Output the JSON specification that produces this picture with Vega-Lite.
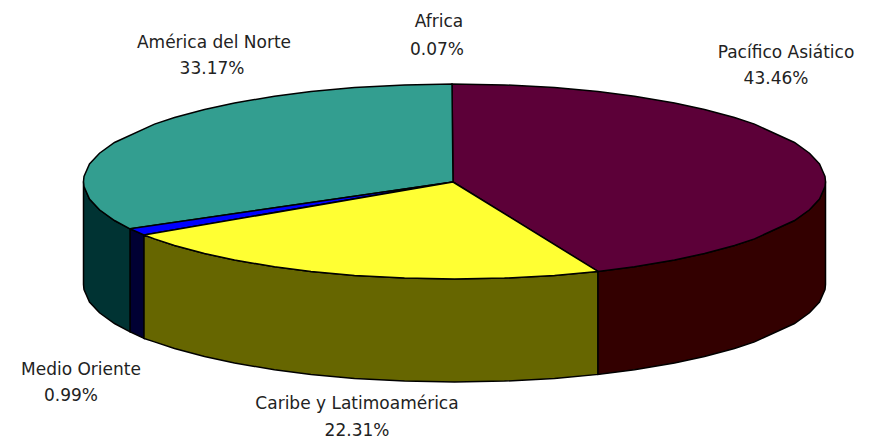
{"$schema":"https://vega.github.io/schema/vega-lite/v6.json","width":870,"height":442,"padding":0,"autosize":"none","background":"white","config":{"view":{"stroke":null}},
"datasets":{"shapes":[
{"part":"Medio Oriente lado","o":1,"x":130,"y":228.8},{"part":"Medio Oriente lado","o":2,"x":144,"y":235},{"part":"Medio Oriente lado","o":3,"x":144,"y":338.4},{"part":"Medio Oriente lado","o":4,"x":130,"y":331.8},{"part":"Medio Oriente lado","o":5,"x":130,"y":228.8},
{"part":"América lado","o":1,"x":83.5,"y":181.5},{"part":"América lado","o":2,"x":84,"y":186.5},{"part":"América lado","o":3,"x":89.5,"y":199},{"part":"América lado","o":4,"x":99.5,"y":209.8},{"part":"América lado","o":5,"x":114.5,"y":220.5},{"part":"América lado","o":6,"x":130,"y":228.8},{"part":"América lado","o":7,"x":130,"y":331.8},{"part":"América lado","o":8,"x":114.5,"y":323.5},{"part":"América lado","o":9,"x":99.5,"y":312.8},{"part":"América lado","o":10,"x":89.5,"y":302},{"part":"América lado","o":11,"x":84,"y":289.5},{"part":"América lado","o":12,"x":83.5,"y":284.5},{"part":"América lado","o":13,"x":83.5,"y":181.5},
{"part":"Caribe lado","o":1,"x":144,"y":235},{"part":"Caribe lado","o":2,"x":154.5,"y":238.9},{"part":"Caribe lado","o":3,"x":174.5,"y":245.5},{"part":"Caribe lado","o":4,"x":204.5,"y":253.5},{"part":"Caribe lado","o":5,"x":234.5,"y":260},{"part":"Caribe lado","o":6,"x":274.5,"y":266.8},{"part":"Caribe lado","o":7,"x":311,"y":271.4},{"part":"Caribe lado","o":8,"x":354.5,"y":275.4},{"part":"Caribe lado","o":9,"x":404.5,"y":278.1},{"part":"Caribe lado","o":10,"x":454.5,"y":279},{"part":"Caribe lado","o":11,"x":504.5,"y":278.1},{"part":"Caribe lado","o":12,"x":554.5,"y":275.4},{"part":"Caribe lado","o":13,"x":598,"y":271.4},{"part":"Caribe lado","o":14,"x":598,"y":374.4},{"part":"Caribe lado","o":15,"x":554.5,"y":378.4},{"part":"Caribe lado","o":16,"x":504.5,"y":381.1},{"part":"Caribe lado","o":17,"x":454.5,"y":382},{"part":"Caribe lado","o":18,"x":404.5,"y":381.1},{"part":"Caribe lado","o":19,"x":354.5,"y":378.4},{"part":"Caribe lado","o":20,"x":311,"y":374.4},{"part":"Caribe lado","o":21,"x":274.5,"y":369.8},{"part":"Caribe lado","o":22,"x":234.5,"y":363},{"part":"Caribe lado","o":23,"x":204.5,"y":356.5},{"part":"Caribe lado","o":24,"x":174.5,"y":348.5},{"part":"Caribe lado","o":25,"x":154.5,"y":341.9},{"part":"Caribe lado","o":26,"x":144,"y":338.4},{"part":"Caribe lado","o":27,"x":144,"y":235},
{"part":"Pacífico lado","o":1,"x":598,"y":271.4},{"part":"Pacífico lado","o":2,"x":634.5,"y":266.8},{"part":"Pacífico lado","o":3,"x":674.5,"y":260},{"part":"Pacífico lado","o":4,"x":704.5,"y":253.5},{"part":"Pacífico lado","o":5,"x":734.5,"y":245.5},{"part":"Pacífico lado","o":6,"x":754.5,"y":238.9},{"part":"Pacífico lado","o":7,"x":794.5,"y":220.5},{"part":"Pacífico lado","o":8,"x":809.5,"y":209.8},{"part":"Pacífico lado","o":9,"x":819.5,"y":199},{"part":"Pacífico lado","o":10,"x":825,"y":186.5},{"part":"Pacífico lado","o":11,"x":825.5,"y":181.5},{"part":"Pacífico lado","o":12,"x":825.5,"y":284.5},{"part":"Pacífico lado","o":13,"x":825,"y":289.5},{"part":"Pacífico lado","o":14,"x":819.5,"y":302},{"part":"Pacífico lado","o":15,"x":809.5,"y":312.8},{"part":"Pacífico lado","o":16,"x":794.5,"y":323.5},{"part":"Pacífico lado","o":17,"x":754.5,"y":341.9},{"part":"Pacífico lado","o":18,"x":734.5,"y":348.5},{"part":"Pacífico lado","o":19,"x":704.5,"y":356.5},{"part":"Pacífico lado","o":20,"x":674.5,"y":363},{"part":"Pacífico lado","o":21,"x":634.5,"y":369.8},{"part":"Pacífico lado","o":22,"x":598,"y":374.4},{"part":"Pacífico lado","o":23,"x":598,"y":271.4},
{"part":"Pacífico","o":1,"x":453,"y":182},{"part":"Pacífico","o":2,"x":452,"y":84},{"part":"Pacífico","o":3,"x":504.5,"y":84.9},{"part":"Pacífico","o":4,"x":554.5,"y":87.6},{"part":"Pacífico","o":5,"x":598,"y":91.6},{"part":"Pacífico","o":6,"x":634.5,"y":96.2},{"part":"Pacífico","o":7,"x":674.5,"y":103},{"part":"Pacífico","o":8,"x":704.5,"y":109.5},{"part":"Pacífico","o":9,"x":734.5,"y":117.5},{"part":"Pacífico","o":10,"x":754.5,"y":124.1},{"part":"Pacífico","o":11,"x":794.5,"y":142.5},{"part":"Pacífico","o":12,"x":809.5,"y":153.2},{"part":"Pacífico","o":13,"x":819.5,"y":164},{"part":"Pacífico","o":14,"x":825,"y":176.5},{"part":"Pacífico","o":15,"x":825.5,"y":181.5},{"part":"Pacífico","o":16,"x":825,"y":186.5},{"part":"Pacífico","o":17,"x":819.5,"y":199},{"part":"Pacífico","o":18,"x":809.5,"y":209.8},{"part":"Pacífico","o":19,"x":794.5,"y":220.5},{"part":"Pacífico","o":20,"x":754.5,"y":238.9},{"part":"Pacífico","o":21,"x":734.5,"y":245.5},{"part":"Pacífico","o":22,"x":704.5,"y":253.5},{"part":"Pacífico","o":23,"x":674.5,"y":260},{"part":"Pacífico","o":24,"x":634.5,"y":266.8},{"part":"Pacífico","o":25,"x":598,"y":271.4},{"part":"Pacífico","o":26,"x":453,"y":182},
{"part":"América","o":1,"x":453,"y":182},{"part":"América","o":2,"x":452,"y":84},{"part":"América","o":3,"x":404.5,"y":84.9},{"part":"América","o":4,"x":354.5,"y":87.6},{"part":"América","o":5,"x":311,"y":91.6},{"part":"América","o":6,"x":274.5,"y":96.2},{"part":"América","o":7,"x":234.5,"y":103},{"part":"América","o":8,"x":204.5,"y":109.5},{"part":"América","o":9,"x":174.5,"y":117.5},{"part":"América","o":10,"x":154.5,"y":124.1},{"part":"América","o":11,"x":114.5,"y":142.5},{"part":"América","o":12,"x":99.5,"y":153.2},{"part":"América","o":13,"x":89.5,"y":164},{"part":"América","o":14,"x":84,"y":176.5},{"part":"América","o":15,"x":83.5,"y":181.5},{"part":"América","o":16,"x":84,"y":186.5},{"part":"América","o":17,"x":89.5,"y":199},{"part":"América","o":18,"x":99.5,"y":209.8},{"part":"América","o":19,"x":114.5,"y":220.5},{"part":"América","o":20,"x":130,"y":228.8},{"part":"América","o":21,"x":453,"y":182},
{"part":"Medio Oriente","o":1,"x":453,"y":182},{"part":"Medio Oriente","o":2,"x":130,"y":228.8},{"part":"Medio Oriente","o":3,"x":144,"y":235},{"part":"Medio Oriente","o":4,"x":453,"y":182},
{"part":"Caribe","o":1,"x":453,"y":182},{"part":"Caribe","o":2,"x":144,"y":235},{"part":"Caribe","o":3,"x":154.5,"y":238.9},{"part":"Caribe","o":4,"x":174.5,"y":245.5},{"part":"Caribe","o":5,"x":204.5,"y":253.5},{"part":"Caribe","o":6,"x":234.5,"y":260},{"part":"Caribe","o":7,"x":274.5,"y":266.8},{"part":"Caribe","o":8,"x":311,"y":271.4},{"part":"Caribe","o":9,"x":354.5,"y":275.4},{"part":"Caribe","o":10,"x":404.5,"y":278.1},{"part":"Caribe","o":11,"x":454.5,"y":279},{"part":"Caribe","o":12,"x":504.5,"y":278.1},{"part":"Caribe","o":13,"x":554.5,"y":275.4},{"part":"Caribe","o":14,"x":598,"y":271.4},{"part":"Caribe","o":15,"x":453,"y":182}
],
"labels":[
{"label":"América del Norte","x":214,"y":43},{"label":"33.17%","x":212,"y":69},
{"label":"Africa","x":439,"y":22},{"label":"0.07%","x":437,"y":50},
{"label":"Pacífico Asiático","x":786,"y":53},{"label":"43.46%","x":776,"y":79},
{"label":"Medio Oriente","x":81,"y":370},{"label":"0.99%","x":71,"y":396},
{"label":"Caribe y Latimoamérica","x":357,"y":404},{"label":"22.31%","x":357,"y":431}
]},
"layer":[
{"data":{"name":"shapes"},"mark":{"type":"line","filled":true,"stroke":"black","strokeWidth":1.5,"strokeJoin":"miter","interpolate":"linear"},
"encoding":{
"x":{"field":"x","type":"quantitative","axis":null,"scale":{"domain":[0,870]}},
"y":{"field":"y","type":"quantitative","axis":null,"scale":{"domain":[442,0]}},
"order":{"field":"o","type":"quantitative"},
"color":{"field":"part","type":"nominal","legend":null,"scale":{"domain":["Medio Oriente lado","América lado","Caribe lado","Pacífico lado","Pacífico","América","Medio Oriente","Caribe"],"range":["#000033","#003333","#666600","#330000","#5C0038","#339E90","#0000FF","#FFFF33"]}}}},
{"data":{"name":"labels"},"mark":{"type":"text","font":"DejaVu Sans","fontSize":17,"fill":"#222222","align":"center","baseline":"middle"},
"encoding":{
"x":{"field":"x","type":"quantitative","axis":null,"scale":{"domain":[0,870]}},
"y":{"field":"y","type":"quantitative","axis":null,"scale":{"domain":[442,0]}},
"text":{"field":"label","type":"nominal"}}}
]}
